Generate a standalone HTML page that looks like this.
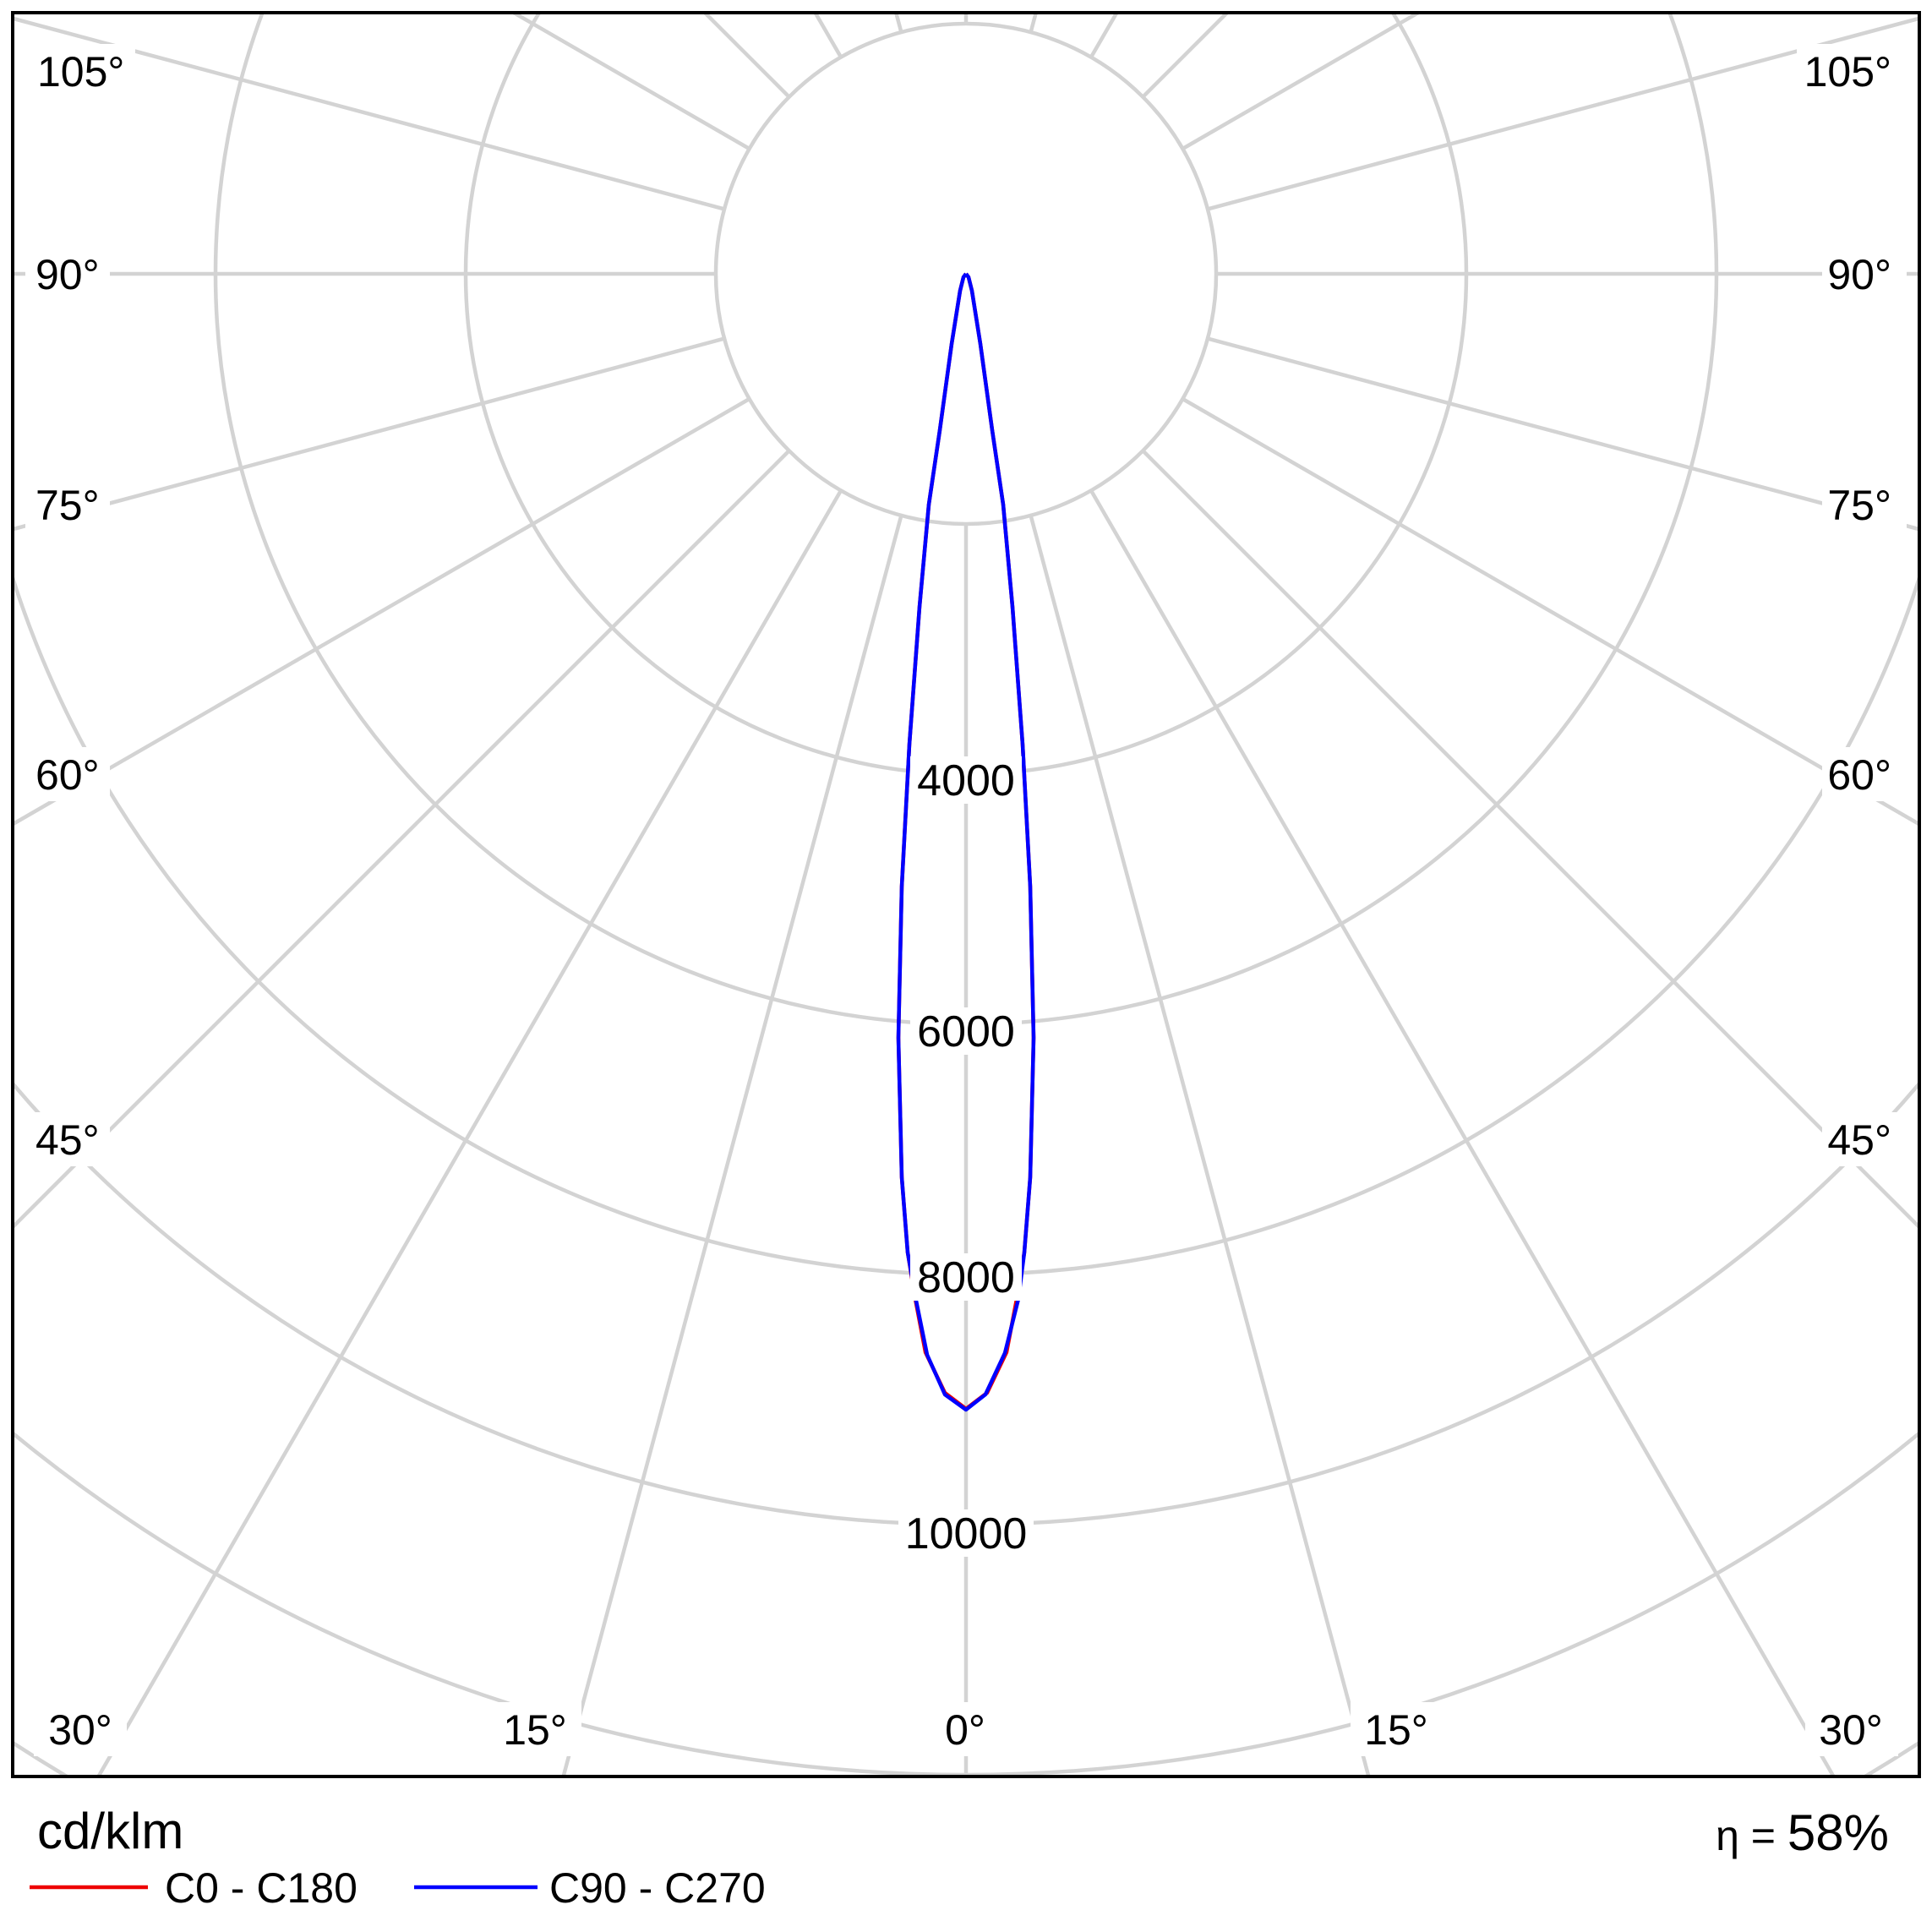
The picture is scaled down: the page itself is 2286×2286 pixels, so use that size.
<!DOCTYPE html>
<html><head><meta charset="utf-8"><style>
html,body{margin:0;padding:0;background:#fff;width:2286px;height:2286px;overflow:hidden}
svg{display:block}
text{font-family:"Liberation Sans","DejaVu Sans",sans-serif;fill:#000}
</style></head><body>
<svg width="2286" height="2286" viewBox="0 0 2286 2286" xmlns="http://www.w3.org/2000/svg">
<defs><clipPath id="c"><rect x="15" y="15" width="2256" height="2087"/></clipPath></defs>
<rect width="2286" height="2286" fill="#fff"/>
<g clip-path="url(#c)" stroke="#d3d3d3" stroke-width="4.5" fill="none">
<circle cx="1143" cy="324" r="296"/>
<circle cx="1143" cy="324" r="592"/>
<circle cx="1143" cy="324" r="888"/>
<circle cx="1143" cy="324" r="1184"/>
<circle cx="1143" cy="324" r="1480"/>
<circle cx="1143" cy="324" r="1776"/>
<circle cx="1143" cy="324" r="2072"/>
<g>
<line x1="1143" y1="620" x2="1143" y2="4000"/>
<line x1="1143" y1="620" x2="1143" y2="4000" transform="rotate(15 1143 324)"/>
<line x1="1143" y1="620" x2="1143" y2="4000" transform="rotate(30 1143 324)"/>
<line x1="1143" y1="620" x2="1143" y2="4000" transform="rotate(45 1143 324)"/>
<line x1="1143" y1="620" x2="1143" y2="4000" transform="rotate(60 1143 324)"/>
<line x1="1143" y1="620" x2="1143" y2="4000" transform="rotate(75 1143 324)"/>
<line x1="1143" y1="620" x2="1143" y2="4000" transform="rotate(90 1143 324)"/>
<line x1="1143" y1="620" x2="1143" y2="4000" transform="rotate(105 1143 324)"/>
<line x1="1143" y1="620" x2="1143" y2="4000" transform="rotate(120 1143 324)"/>
<line x1="1143" y1="620" x2="1143" y2="4000" transform="rotate(135 1143 324)"/>
<line x1="1143" y1="620" x2="1143" y2="4000" transform="rotate(150 1143 324)"/>
<line x1="1143" y1="620" x2="1143" y2="4000" transform="rotate(165 1143 324)"/>
<line x1="1143" y1="620" x2="1143" y2="4000" transform="rotate(180 1143 324)"/>
<line x1="1143" y1="620" x2="1143" y2="4000" transform="rotate(-15 1143 324)"/>
<line x1="1143" y1="620" x2="1143" y2="4000" transform="rotate(-30 1143 324)"/>
<line x1="1143" y1="620" x2="1143" y2="4000" transform="rotate(-45 1143 324)"/>
<line x1="1143" y1="620" x2="1143" y2="4000" transform="rotate(-60 1143 324)"/>
<line x1="1143" y1="620" x2="1143" y2="4000" transform="rotate(-75 1143 324)"/>
<line x1="1143" y1="620" x2="1143" y2="4000" transform="rotate(-90 1143 324)"/>
<line x1="1143" y1="620" x2="1143" y2="4000" transform="rotate(-105 1143 324)"/>
<line x1="1143" y1="620" x2="1143" y2="4000" transform="rotate(-120 1143 324)"/>
<line x1="1143" y1="620" x2="1143" y2="4000" transform="rotate(-135 1143 324)"/>
<line x1="1143" y1="620" x2="1143" y2="4000" transform="rotate(-150 1143 324)"/>
<line x1="1143" y1="620" x2="1143" y2="4000" transform="rotate(-165 1143 324)"/>
</g>
</g>
<g fill="none" stroke-width="4.5" stroke-linejoin="round">
<polyline stroke="#e00" points="1143,324 1146,328 1150,344 1160,407 1174,509 1187,597 1198,718 1210,881 1219,1049 1223,1228 1219,1393 1212,1482 1203,1537 1191,1600 1168,1648 1143,1667 1118,1648 1095,1600 1083,1537 1074,1482 1067,1393 1063,1228 1067,1049 1076,881 1088,718 1099,597 1112,509 1126,407 1136,344 1140,328 1143,324"/>
<polyline stroke="#00f" points="1143,324 1146,328 1150,344 1160,407 1174,509 1187,597 1198,718 1210,881 1219,1049 1223,1228 1219,1393 1212,1482 1205,1537 1189,1601 1166,1650 1143,1668 1118,1650 1097,1603 1084,1539 1074,1482 1067,1393 1063,1228 1067,1049 1076,881 1088,718 1099,597 1112,509 1126,407 1136,344 1140,328 1143,324"/>
</g>
<g font-size="50">
<rect x="1077" y="895" width="132" height="56" fill="#fff"/><text x="1143" y="941" text-anchor="middle" font-size="52">4000</text>
<rect x="1077" y="1192" width="132" height="56" fill="#fff"/><text x="1143" y="1238" text-anchor="middle" font-size="52">6000</text>
<rect x="1077" y="1483" width="132" height="56" fill="#fff"/><text x="1143" y="1529" text-anchor="middle" font-size="52">8000</text>
<rect x="1063" y="1786" width="160" height="56" fill="#fff"/><text x="1143" y="1832" text-anchor="middle" font-size="52">10000</text>

<rect x="30" y="52" width="130" height="64" fill="#fff"/><text x="44" y="102">105°</text>
<rect x="30" y="292" width="100" height="64" fill="#fff"/><text x="42" y="342">90°</text>
<rect x="30" y="565" width="100" height="64" fill="#fff"/><text x="42" y="615">75°</text>
<rect x="30" y="884" width="100" height="64" fill="#fff"/><text x="42" y="934">60°</text>
<rect x="30" y="1316" width="100" height="64" fill="#fff"/><text x="42" y="1366">45°</text>

<rect x="2126" y="52" width="130" height="64" fill="#fff"/><text x="2238" y="102" text-anchor="end">105°</text>
<rect x="2156" y="292" width="100" height="64" fill="#fff"/><text x="2238" y="342" text-anchor="end">90°</text>
<rect x="2156" y="565" width="100" height="64" fill="#fff"/><text x="2238" y="615" text-anchor="end">75°</text>
<rect x="2156" y="884" width="100" height="64" fill="#fff"/><text x="2238" y="934" text-anchor="end">60°</text>
<rect x="2156" y="1316" width="100" height="64" fill="#fff"/><text x="2238" y="1366" text-anchor="end">45°</text>

<rect x="40" y="2014" width="110" height="64" fill="#fff"/><text x="95" y="2064" text-anchor="middle">30°</text>
<rect x="578" y="2014" width="110" height="64" fill="#fff"/><text x="633" y="2064" text-anchor="middle">15°</text>
<rect x="1098" y="2014" width="90" height="64" fill="#fff"/><text x="1142" y="2064" text-anchor="middle">0°</text>
<rect x="1598" y="2014" width="110" height="64" fill="#fff"/><text x="1652" y="2064" text-anchor="middle">15°</text>
<rect x="2136" y="2014" width="110" height="64" fill="#fff"/><text x="2190" y="2064" text-anchor="middle">30°</text>
</g>
<rect x="15" y="15" width="2256" height="2087" fill="none" stroke="#000" stroke-width="4"/>
<text x="44" y="2187" font-size="60">cd/klm</text>
<line x1="35" y1="2233" x2="175" y2="2233" stroke="#e00" stroke-width="4.5"/>
<text x="195" y="2251" font-size="50">C0 - C180</text>
<line x1="490" y1="2233" x2="636" y2="2233" stroke="#00f" stroke-width="4.5"/>
<text x="650" y="2251" font-size="50">C90 - C270</text>
<text x="2235" y="2189" text-anchor="end" font-size="60"><tspan font-size="50">η = </tspan>58%</text>
</svg>
</body></html>
